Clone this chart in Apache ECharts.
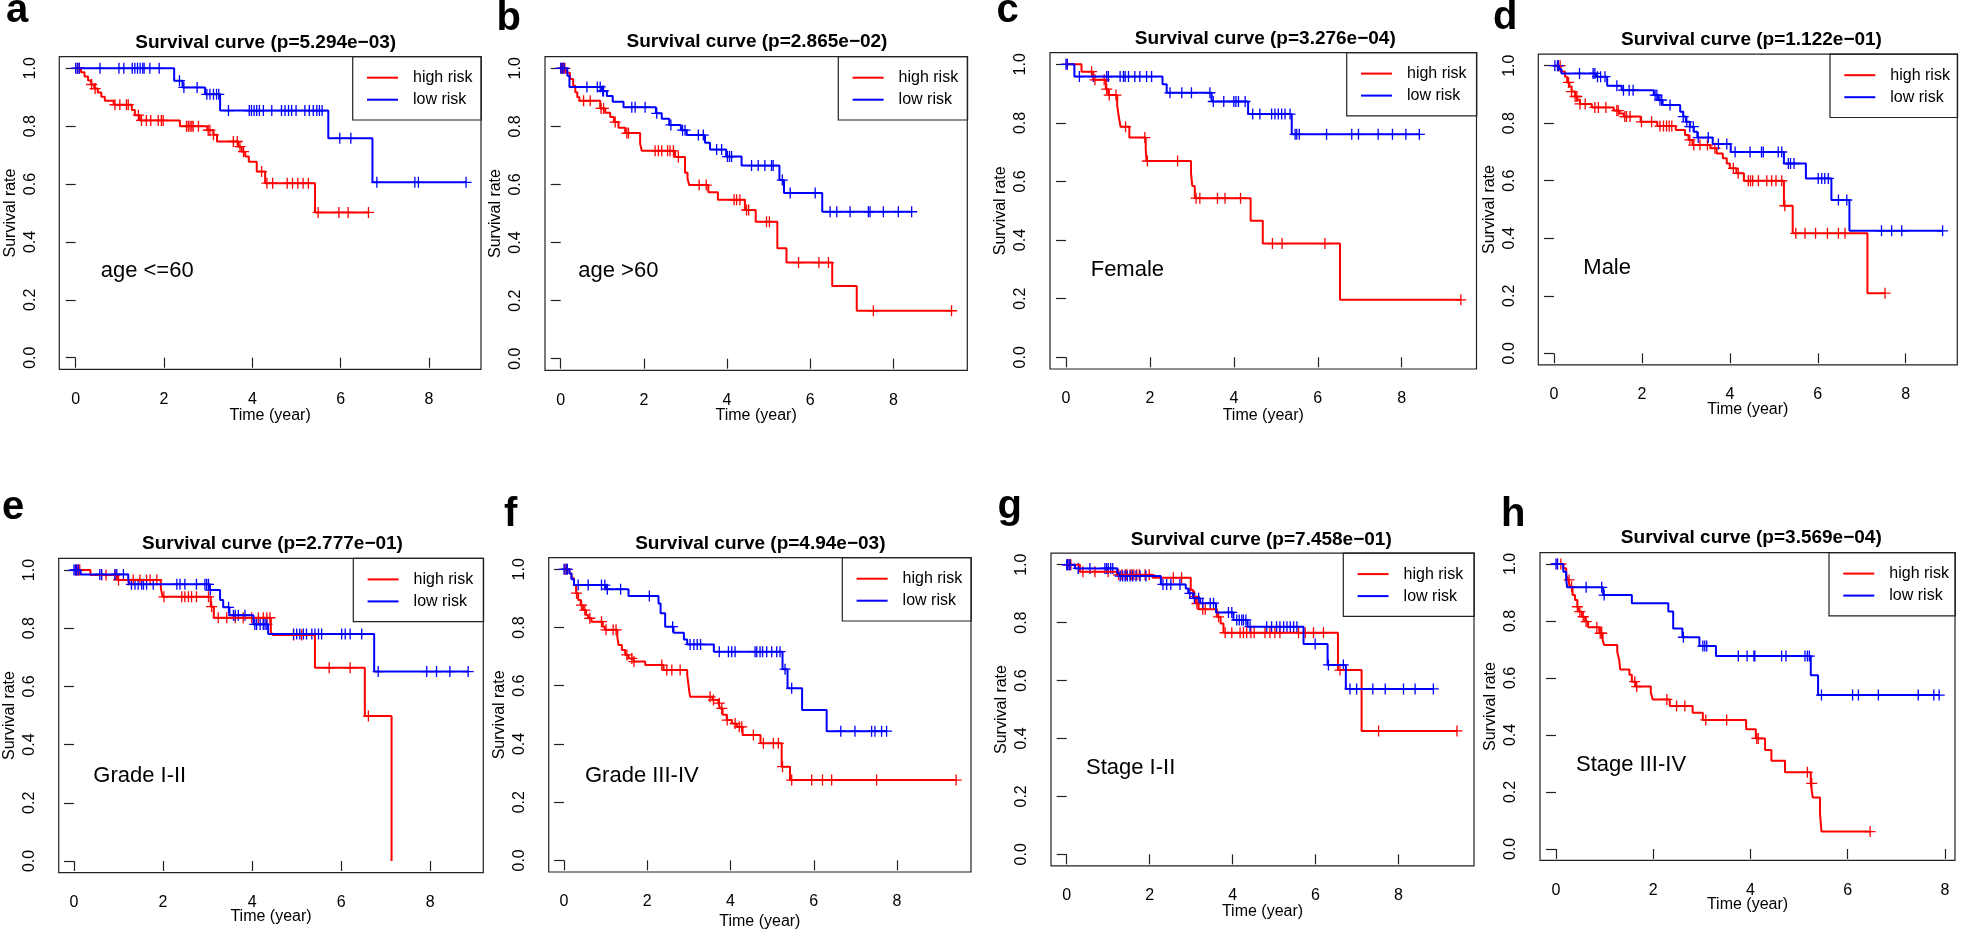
<!DOCTYPE html>
<html>
<head>
<meta charset="utf-8">
<title>Survival curves by subgroup</title>
<script src="https://cdn.jsdelivr.net/npm/echarts@6/dist/echarts.min.js"></script>
<style>
  html, body { margin: 0; padding: 0; background: #fff; }
  #main { width: 1961px; height: 933px; }
</style>
</head>
<body>
<div id="main"></div>
<script>
// Kaplan-Meier steps: [time (year), survival after the drop]; censor: times of '+' marks
var aHigh = [[0,1],[0.12,0.986],[0.2,0.972],[0.28,0.958],[0.35,0.944],[0.42,0.93],[0.5,0.916],[0.58,0.902],[0.66,0.888],[0.86,0.874],[1.27,0.856],[1.34,0.838],[1.45,0.82],[2.36,0.8],[2.98,0.786],[3.12,0.77],[3.2,0.747],[3.68,0.729],[3.76,0.712],[3.84,0.695],[3.92,0.677],[4.1,0.643],[4.29,0.603],[5.42,0.502]]
var aHighCensor = [0.04,0.08,0.36,0.44,0.89,1.0,1.15,1.19,1.42,1.49,1.6,1.7,1.87,1.94,1.98,2.51,2.55,2.59,2.63,2.66,2.78,3.0,3.04,3.12,3.57,3.66,3.72,3.8,4.21,4.33,4.46,4.79,4.91,5.03,5.15,5.27,5.49,5.96,6.17,6.63]
var aLow = [[0,1],[2.23,0.957],[2.42,0.934],[2.93,0.91],[3.27,0.854],[5.72,0.758],[6.72,0.606]]
var aLowCensor = [0,0.04,0.08,0.55,0.98,1.09,1.28,1.34,1.4,1.46,1.52,1.55,1.68,1.89,2.35,2.45,2.75,2.97,3.04,3.12,3.19,3.24,3.46,3.93,3.98,4.04,4.1,4.16,4.25,4.44,4.66,4.74,4.82,4.89,4.99,5.19,5.29,5.38,5.46,5.52,5.58,5.98,6.23,6.82,7.68,7.76,8.84]

var bHigh = [[0,1],[0.13,0.985],[0.22,0.963],[0.3,0.94],[0.35,0.918],[0.4,0.9],[0.45,0.888],[0.95,0.862],[1.07,0.847],[1.19,0.832],[1.28,0.815],[1.39,0.795],[1.55,0.777],[1.91,0.74],[1.95,0.716],[2.75,0.695],[2.99,0.64],[3.05,0.62],[3.09,0.598],[3.55,0.573],[3.78,0.547],[4.43,0.512],[4.69,0.472],[5.21,0.38],[5.43,0.331],[6.53,0.25],[7.12,0.165]]
var bHighCensor = [0.02,0.06,0.1,0.55,0.71,0.97,1.03,1.31,1.59,1.63,2.27,2.35,2.43,2.57,2.63,2.71,2.83,3.33,3.5,4.17,4.23,4.31,4.47,4.52,4.95,5.02,5.72,6.21,6.44,7.52,9.4]
var bLow = [[0,1],[0.16,0.974],[0.21,0.936],[0.99,0.922],[1.11,0.905],[1.25,0.885],[1.51,0.866],[2.29,0.845],[2.43,0.826],[2.61,0.805],[2.89,0.787],[3.03,0.77],[3.47,0.744],[3.59,0.72],[3.98,0.696],[4.35,0.665],[5.26,0.615],[5.37,0.571],[6.29,0.506]]
var bLowCensor = [0,0.04,0.08,0.63,0.88,0.95,1.01,1.03,1.71,1.79,2.03,2.31,2.65,2.93,2.99,3.31,3.43,3.75,3.87,4.01,4.06,4.11,4.59,4.75,4.91,5.07,5.11,5.33,5.52,6.12,6.48,6.64,6.96,7.4,7.44,7.76,8.12,8.44]

var cHigh = [[0,1],[0.37,0.975],[0.65,0.947],[0.95,0.915],[1.01,0.895],[1.22,0.86],[1.26,0.82],[1.3,0.787],[1.51,0.75],[1.9,0.71],[1.92,0.67],[2.98,0.628],[3.01,0.585],[3.07,0.543],[4.4,0.466],[4.69,0.388],[6.53,0.196]]
var cHighCensor = [0.03,0.61,0.69,0.91,0.97,1.03,1.19,1.42,1.88,1.94,2.66,3.1,3.19,3.61,3.79,4.16,4.92,5.15,6.17,9.41]
var cLow = [[0,1],[0.2,0.958],[2.3,0.932],[2.4,0.903],[3.47,0.873],[4.34,0.83],[5.38,0.761]]
var cLowCensor = [0,0.03,0.32,0.65,0.97,1.01,1.29,1.37,1.41,1.49,1.64,1.76,1.92,2.04,2.48,2.76,2.99,3.43,3.51,3.76,4.0,4.05,4.11,4.27,4.45,4.62,4.9,4.98,5.06,5.14,5.22,5.34,5.46,5.5,5.56,6.21,6.81,6.97,7.44,7.78,8.1,8.42]

var dHigh = [[0,1],[0.15,0.98],[0.25,0.962],[0.3,0.942],[0.35,0.928],[0.4,0.91],[0.48,0.893],[0.53,0.88],[0.59,0.867],[0.86,0.855],[1.36,0.844],[1.49,0.834],[1.59,0.823],[1.97,0.805],[2.35,0.79],[2.77,0.776],[2.98,0.759],[3.06,0.742],[3.15,0.724],[3.56,0.713],[3.7,0.695],[3.84,0.678],[3.93,0.66],[4.0,0.643],[4.15,0.626],[4.32,0.6],[5.23,0.513],[5.43,0.417],[7.13,0.209]]
var dHighCensor = [0.1,0.14,0.33,0.4,0.48,0.52,0.59,0.71,0.93,1.01,1.18,1.43,1.46,1.61,1.65,1.73,1.99,2.22,2.41,2.49,2.56,2.62,2.68,3.09,3.18,3.32,3.49,3.66,4.08,4.19,4.42,4.47,4.52,4.65,4.84,4.95,5.05,5.18,5.25,5.5,5.71,5.95,6.22,6.47,6.62,7.53]
var dLow = [[0,1],[0.12,0.988],[0.17,0.973],[0.96,0.962],[1.21,0.93],[1.54,0.915],[2.27,0.898],[2.37,0.88],[2.47,0.863],[2.87,0.84],[2.94,0.823],[3.0,0.805],[3.09,0.788],[3.18,0.77],[3.26,0.75],[3.61,0.728],[4.02,0.7],[5.23,0.66],[5.73,0.608],[6.31,0.533],[6.72,0.426]]
var dLowCensor = [0.02,0.08,0.1,0.58,0.89,0.93,0.99,1.06,1.16,1.43,1.58,1.71,1.8,2.3,2.34,2.41,2.45,2.64,2.94,3.02,3.09,3.17,3.28,3.51,3.74,3.93,4.12,4.46,4.72,4.76,5.1,5.18,5.33,5.38,5.46,6.01,6.09,6.16,6.24,6.47,6.66,7.45,7.68,7.91,8.84]

var eHigh = [[0,1],[0.37,0.983],[0.97,0.966],[1.95,0.937],[1.99,0.908],[3.07,0.874],[3.14,0.836],[4.42,0.788],[4.46,0.777],[5.41,0.664],[6.53,0.498],[7.13,0]]
var eHighCensor = [0.04,0.07,0.1,0.13,0.62,0.72,0.92,1.0,1.22,1.33,1.48,1.63,1.71,1.86,2.02,2.42,2.49,2.57,2.64,2.75,3.02,3.09,3.24,3.43,3.62,3.8,3.99,4.14,4.25,4.33,4.4,4.93,5.11,5.73,6.2,6.61]
var eLow = [[0,1],[0.15,0.985],[1.22,0.963],[1.26,0.951],[3.04,0.931],[3.28,0.897],[3.35,0.872],[3.49,0.845],[4.03,0.813],[4.36,0.78],[6.74,0.651]]
var eLowCensor = [0,0.03,0.06,0.1,0.58,0.62,0.92,0.96,1.11,1.29,1.37,1.44,1.52,1.56,1.63,1.78,2.31,2.38,2.49,2.75,2.94,2.98,3.02,3.06,3.47,3.58,3.62,3.69,3.84,4.06,4.1,4.18,4.25,4.29,4.33,4.93,5.0,5.07,5.15,5.22,5.34,5.41,5.49,5.56,6.01,6.09,6.2,6.46,6.83,7.92,8.14,8.44,8.85]

var fHigh = [[0,1],[0.13,0.986],[0.18,0.969],[0.24,0.946],[0.29,0.918],[0.34,0.895],[0.4,0.877],[0.46,0.86],[0.53,0.843],[0.58,0.832],[0.66,0.82],[0.93,0.803],[0.98,0.792],[1.28,0.769],[1.31,0.74],[1.39,0.723],[1.47,0.706],[1.55,0.694],[1.67,0.683],[1.95,0.671],[2.39,0.654],[2.96,0.637],[2.99,0.603],[3.01,0.58],[3.03,0.562],[3.57,0.551],[3.71,0.54],[3.75,0.522],[3.81,0.5],[3.91,0.482],[4.03,0.47],[4.15,0.459],[4.29,0.431],[4.72,0.402],[5.23,0.322],[5.43,0.276]]
var fHighCensor = [0.02,0.06,0.3,0.42,0.5,0.62,0.9,1.01,1.18,1.25,1.51,1.63,1.68,2.35,2.47,2.59,2.79,3.51,3.59,3.73,3.79,3.92,4.11,4.21,4.27,4.55,4.79,5.03,5.15,5.25,5.47,5.95,6.21,6.43,7.51,9.42]
var fLow = [[0,1],[0.13,0.986],[0.18,0.966],[0.24,0.946],[1.01,0.932],[1.55,0.908],[2.27,0.883],[2.32,0.849],[2.43,0.803],[2.63,0.782],[2.88,0.759],[2.96,0.742],[3.6,0.717],[5.25,0.657],[5.37,0.591],[5.72,0.517],[6.31,0.444]]
var fLowCensor = [0,0.05,0.08,0.34,0.58,0.9,0.98,1.04,1.36,2.05,2.61,3.03,3.12,3.2,3.28,3.73,3.95,4.03,4.11,4.59,4.63,4.71,4.77,4.87,4.99,5.11,5.19,5.31,5.47,6.65,6.99,7.39,7.47,7.63,7.75]

var gHigh = [[0,1],[0.32,0.976],[1.21,0.965],[2.07,0.955],[2.99,0.913],[3.05,0.89],[3.12,0.866],[3.18,0.846],[3.62,0.82],[3.71,0.797],[3.78,0.765],[6.54,0.636],[7.11,0.426]]
var gHighCensor = [0.02,0.06,0.1,0.39,0.68,1.0,1.25,1.33,1.41,1.45,1.53,1.57,1.62,1.69,1.75,1.89,1.99,2.57,2.77,3.08,3.14,3.28,3.34,3.66,3.82,3.98,4.18,4.26,4.34,4.44,4.52,4.78,4.9,5.02,5.14,5.59,5.75,5.95,6.19,6.59,7.52,9.41]
var gLow = [[0,1],[0.2,0.987],[1.22,0.97],[1.27,0.961],[2.27,0.932],[2.87,0.918],[2.93,0.901],[3.05,0.884],[3.22,0.867],[3.6,0.835],[4.02,0.809],[4.36,0.786],[5.71,0.726],[6.29,0.654],[6.73,0.571]]
var gLowCensor = [0,0.02,0.06,0.08,0.28,0.56,0.92,0.96,1.0,1.06,1.11,1.29,1.35,1.41,1.46,1.53,1.59,1.67,1.77,1.91,2.32,2.41,2.51,2.73,2.97,3.08,3.18,3.28,3.46,3.54,3.9,3.98,4.1,4.16,4.22,4.26,4.32,4.42,4.82,4.94,5.06,5.14,5.23,5.31,5.39,5.47,5.55,5.99,6.31,6.67,6.83,6.99,7.38,7.68,8.12,8.4,8.84]

var hHigh = [[0,1],[0.15,0.985],[0.21,0.961],[0.25,0.944],[0.29,0.92],[0.34,0.891],[0.39,0.874],[0.44,0.85],[0.48,0.833],[0.53,0.815],[0.6,0.798],[0.66,0.778],[0.89,0.757],[0.96,0.733],[0.99,0.716],[1.26,0.692],[1.3,0.663],[1.32,0.63],[1.51,0.611],[1.56,0.587],[1.64,0.57],[1.95,0.549],[1.99,0.525],[2.34,0.502],[2.81,0.478],[3.02,0.453],[3.91,0.42],[4.11,0.388],[4.3,0.347],[4.43,0.31],[4.71,0.269],[5.24,0.23],[5.28,0.181],[5.43,0.123],[5.46,0.061]]
var hHighCensor = [0.03,0.1,0.27,0.32,0.44,0.49,0.56,0.62,0.84,0.91,0.94,1.62,1.66,2.28,2.48,2.65,3.08,3.51,4.13,4.16,5.17,5.26,6.46]
var hLow = [[0,1],[0.15,0.973],[0.21,0.944],[0.23,0.918],[0.97,0.891],[1.56,0.862],[2.31,0.833],[2.41,0.774],[2.6,0.743],[2.95,0.712],[3.29,0.677],[5.24,0.61],[5.39,0.54]]
var hLowCensor = [0,0.03,0.62,0.94,0.99,2.62,3.02,3.06,3.1,3.75,3.93,4.07,4.09,4.64,4.73,5.12,5.17,5.21,5.46,6.1,6.22,6.63,7.45,7.77,7.88]

var panelLetters = ['a', 'b', 'c', 'd', 'e', 'f', 'g', 'h']
var pValues = ['5.294e\u221203', '2.865e\u221202', '3.276e\u221204', '1.122e\u221201', '2.777e\u221201', '4.94e\u221203', '7.458e\u221201', '3.569e\u221204']
var groupLabels = ['age <=60', 'age >60', 'Female', 'Male', 'Grade I-II', 'Grade III-IV', 'Stage I-II', 'Stage III-IV']
var seriesNames = ['high risk', 'low risk']
var xTicks = [0, 2, 4, 6, 8]
var yTicks = [0, 0.2, 0.4, 0.6, 0.8, 1.0]

var curves = [
  [aHigh, aHighCensor, aLow, aLowCensor],
  [bHigh, bHighCensor, bLow, bLowCensor],
  [cHigh, cHighCensor, cLow, cLowCensor],
  [dHigh, dHighCensor, dLow, dLowCensor],
  [eHigh, eHighCensor, eLow, eLowCensor],
  [fHigh, fHighCensor, fLow, fLowCensor],
  [gHigh, gHighCensor, gLow, gLowCensor],
  [hHigh, hHighCensor, hLow, hLowCensor]
]

// plot box of each panel in page pixels, and where its texts sit
var layout = [
  { left: 59.3, top: 56.7, width: 421.7, height: 312.6, xMin: -0.371, xMax: 9.178, nameGap: 38.4, legendLeft: 352.7, titleX: 265.7, titleY: 42.7, letterX: 6, letterY: 10.5, groupX: 100.7, groupY: 270.7 },
  { left: 545, top: 56.7, width: 422.3, height: 313.6, xMin: -0.378, xMax: 9.779, nameGap: 37.4, legendLeft: 838.3, titleX: 757, titleY: 41.7, letterX: 496.5, letterY: 18.7, groupX: 578.3, groupY: 270.7 },
  { left: 1050, top: 52.6, width: 426.5, height: 316.4, xMin: -0.381, xMax: 9.783, nameGap: 38.7, legendLeft: 1346.7, titleX: 1265.3, titleY: 38.3, letterX: 996.5, letterY: 11, groupX: 1090.7, groupY: 270 },
  { left: 1538.3, top: 54.2, width: 419, height: 310.6, xMin: -0.357, xMax: 9.174, nameGap: 37.2, legendLeft: 1830, titleX: 1751.5, titleY: 40, letterX: 1493, letterY: 17.7, groupX: 1583.3, groupY: 268.3 },
  { left: 58.7, top: 558.4, width: 424.6, height: 314.2, xMin: -0.343, xMax: 9.19, nameGap: 36, legendLeft: 353.3, titleX: 272.5, titleY: 543.3, letterX: 2, letterY: 507.7, groupX: 93.3, groupY: 776 },
  { left: 548.7, top: 557.7, width: 422.3, height: 314.3, xMin: -0.368, xMax: 9.778, nameGap: 41.7, legendLeft: 842.3, titleX: 760.3, titleY: 543.3, letterX: 504, letterY: 515.3, groupX: 585, groupY: 776 },
  { left: 1051, top: 553.1, width: 423, height: 312.8, xMin: -0.379, xMax: 9.82, nameGap: 37.8, legendLeft: 1343.3, titleX: 1261.3, titleY: 539.3, letterX: 997.5, letterY: 506.8, groupX: 1086, groupY: 768.3 },
  { left: 1540, top: 552.6, width: 415, height: 307.8, xMin: -0.329, xMax: 8.206, nameGap: 35.9, legendLeft: 1829, titleX: 1751.3, titleY: 537.7, letterX: 1501, letterY: 515.3, groupX: 1576, groupY: 765 }
]

var FONT = '"Liberation Sans", Arial, sans-serif'
var colors = ['#ff0000', '#0000ff']
var plusPath = 'path://M4.85,0H6.15V4.85H11V6.15H6.15V11H4.85V6.15H0V4.85H4.85Z'
var legendLine = 'path://M0,0H31V2H0Z'

// survival value in force at time t
function survivalAt(steps, t) {
  var s = steps[0][1]
  for (var i = 0; i < steps.length; i++) {
    if (steps[i][0] <= t) s = steps[i][1]
  }
  return s
}

// the line runs on to the last censored time
function stepPoints(steps, censor) {
  var pts = steps.slice()
  var last = steps[steps.length - 1]
  var tEnd = Math.max.apply(null, censor)
  if (tEnd > last[0]) pts.push([tEnd, last[1]])
  return pts
}

var chart = echarts.init(document.getElementById('main'))
var option = {
  animation: false,
  backgroundColor: '#fff',
  grid: [],
  xAxis: [],
  yAxis: [],
  legend: [],
  series: [],
  graphic: []
}

layout.forEach(function (L, i) {
  option.grid.push({
    left: L.left, top: L.top, width: L.width, height: L.height,
    show: true, borderColor: '#222', borderWidth: 1.2, backgroundColor: 'transparent',
    outerBoundsMode: 'none'
  })
  option.xAxis.push({
    gridIndex: i, type: 'value', min: L.xMin, max: L.xMax,
    axisLine: { show: false },
    axisTick: { show: true, inside: false, length: 10, customValues: xTicks, lineStyle: { color: '#222', width: 1.2 } },
    axisLabel: { customValues: xTicks, margin: 22, fontSize: 16, color: '#000', fontFamily: FONT },
    splitLine: { show: false },
    name: 'Time (year)', nameLocation: 'middle', nameGap: L.nameGap, nameMoveOverlap: false,
    nameTextStyle: { fontSize: 16, color: '#000', fontFamily: FONT }
  })
  option.yAxis.push({
    gridIndex: i, type: 'value', min: -0.04, max: 1.04,
    axisLine: { show: false },
    axisTick: { show: true, inside: false, length: 10, customValues: yTicks, lineStyle: { color: '#222', width: 1.2 } },
    axisLabel: {
      customValues: yTicks, rotate: 90, margin: 21, fontSize: 16, color: '#000', fontFamily: FONT,
      formatter: function (v) { return v.toFixed(1) }
    },
    splitLine: { show: false },
    name: 'Survival rate', nameLocation: 'middle', nameGap: 41, nameMoveOverlap: false,
    nameTextStyle: { fontSize: 16, color: '#000', fontFamily: FONT }
  })
  option.legend.push({
    orient: 'vertical', left: L.legendLeft, top: L.top,
    data: seriesNames, selectedMode: false,
    icon: legendLine, symbolKeepAspect: true,
    itemWidth: 31, itemHeight: 14, itemGap: 6,
    padding: [13, (L.left + L.width) - L.legendLeft - 119.6, 12.3, 14.3],
    borderColor: '#222', borderWidth: 1.2, borderRadius: 0,
    textStyle: { fontSize: 16, color: '#000', fontFamily: FONT, padding: [0, 0, 0, 10] }
  })

  var c = curves[i]
  for (var k = 0; k < 2; k++) {
    var steps = c[k * 2]
    var censor = c[k * 2 + 1]
    option.series.push({
      name: seriesNames[k], type: 'line', step: 'end',
      xAxisIndex: i, yAxisIndex: i,
      symbol: 'none', silent: true,
      lineStyle: { color: colors[k], width: 2 },
      itemStyle: { color: colors[k] },
      data: stepPoints(steps, censor)
    })
    option.series.push({
      name: seriesNames[k] + ' censored', type: 'scatter',
      xAxisIndex: i, yAxisIndex: i, silent: true,
      symbol: plusPath, symbolSize: 11,
      itemStyle: { color: colors[k], opacity: 1 },
      data: censor.map(function (t) { return [t, survivalAt(steps, t)] })
    })
  }

  option.graphic.push({
    type: 'text', x: L.titleX, y: L.titleY, silent: true,
    style: { text: 'Survival curve (p=' + pValues[i] + ')', font: 'bold 19px ' + FONT, fill: '#000', align: 'center', verticalAlign: 'middle' }
  })
  option.graphic.push({
    type: 'text', x: L.letterX, y: L.letterY, silent: true,
    style: { text: panelLetters[i], font: 'bold 40px ' + FONT, fill: '#000', align: 'left', verticalAlign: 'middle' }
  })
  option.graphic.push({
    type: 'text', x: L.groupX, y: L.groupY, silent: true,
    style: { text: groupLabels[i], font: '22px ' + FONT, fill: '#000', align: 'left', verticalAlign: 'middle' }
  })
})

chart.setOption(option)
</script>
</body>
</html>
